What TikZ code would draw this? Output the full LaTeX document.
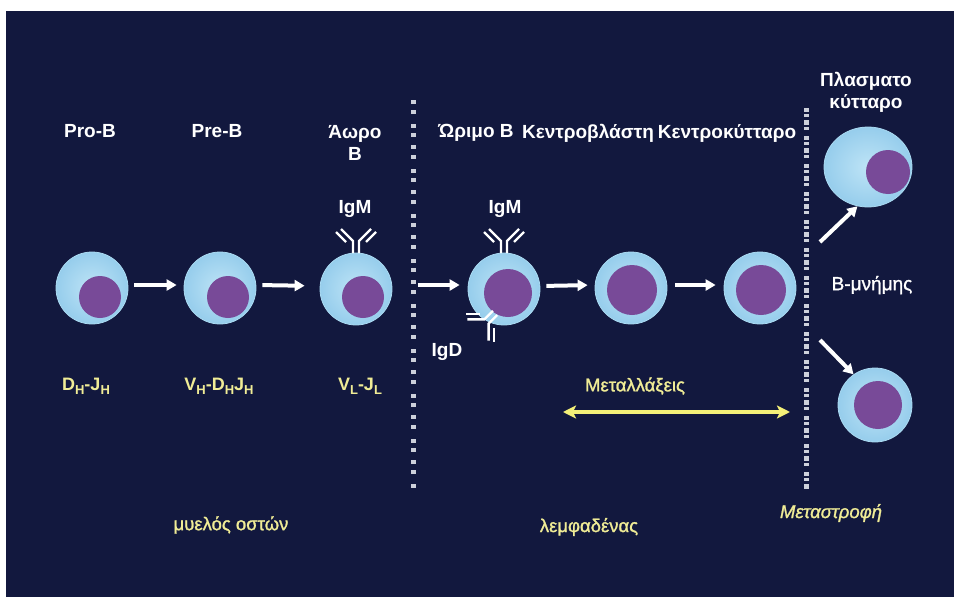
\documentclass[tikz,border=0pt]{standalone}
\usepackage{fontspec}
\setmainfont{Liberation Sans}
\newfontfamily\semibold[FakeBold=1.3]{Liberation Sans}
\usetikzlibrary{arrows.meta,shapes.geometric}

\definecolor{bgnavy}{RGB}{18,24,62}
\definecolor{cellblue}{RGB}{150,205,236}
\definecolor{cellinner}{RGB}{190,228,246}
\definecolor{celledge}{RGB}{170,218,242}
\definecolor{nucleus}{RGB}{120,74,152}
\definecolor{labelyellow}{RGB}{240,236,150}
\definecolor{arrowyellow}{RGB}{244,240,120}
\definecolor{dividergray}{RGB}{205,208,218}

% subscript used in the gene segment labels
\newcommand\gsub[1]{\raisebox{-0.45ex}{\fontsize{13}{13}\selectfont #1}}

\tikzset{
  cellbody/.style={circle, inner sep=0pt, minimum size=#1, draw=celledge,
    line width=0.8pt, inner color=cellinner, outer color=cellblue},
  nucleusbody/.style={circle, inner sep=0pt, minimum size=#1, fill=nucleus},
  flow/.style={draw=white, line width=4pt,
    -{Triangle[length=10pt,width=11pt]}},
  mutation/.style={draw=arrowyellow, line width=3.5pt,
    {Stealth[length=13pt,width=13pt,inset=3pt]}-{Stealth[length=13pt,width=13pt,inset=3pt]}},
  abline/.style={draw=white, line width=2.4pt},
  divider/.style={draw=dividergray, line width=5pt},
  stage/.style={text=white, font=\bfseries\fontsize{19}{22}\selectfont, align=center, inner sep=0pt},
  stagelight/.style={text=white, font=\semibold\fontsize{19}{22}\selectfont, align=center, inner sep=0pt},
  gene/.style={text=labelyellow, font=\bfseries\fontsize{18}{20}\selectfont, inner sep=0pt},
  region/.style={text=labelyellow, font=\semibold\fontsize{18.5}{20}\selectfont, inner sep=0pt},
  antibody/.pic={
    \draw[abline] (-3,0) -- (-3,-12) -- (-15,-24);
    \draw[abline] (3,0) -- (3,-12) -- (15,-24);
    \draw[abline] (-10,-11) -- (-20,-21);
    \draw[abline] (10,-11) -- (20,-21);
  },
}

\begin{document}
\begin{tikzpicture}[x=1pt,y=-1pt]
\useasboundingbox (0,0) rectangle (954,597);
\fill[white] (0,0) rectangle (954,597);
\fill[bgnavy] (6,11) rectangle (954,597);

% compartment dividers
\draw[divider, dash pattern=on 4pt off 6pt on 4pt off 10pt on 4pt off 5pt on 4pt off 8pt] (413,100) -- (413,490);
\draw[divider, dash pattern=on 4pt off 2pt on 3pt off 3pt on 5pt off 2pt on 3pt off 6pt] (806,108) -- (806,490);

% cells
\node[cellbody=72pt] (prob) at (92,288) {};
\node[nucleusbody=42pt] (probn) at (100,297) {};
\node[cellbody=72pt] (preb) at (220,288) {};
\node[nucleusbody=42pt] (prebn) at (228,297) {};
\node[cellbody=72pt] (immature) at (356,289) {};
\node[nucleusbody=42pt] (immaturen) at (363,297) {};
\node[cellbody=72pt] (mature) at (504,289) {};
\node[nucleusbody=48pt] (maturen) at (508,293) {};
\node[cellbody=72pt] (blast) at (631,288) {};
\node[nucleusbody=50pt] (blastn) at (632,290) {};
\node[cellbody=72pt] (cyte) at (760,288) {};
\node[nucleusbody=50pt] (cyten) at (761,290) {};
\node[ellipse, inner sep=0pt, minimum width=88pt, minimum height=80pt, draw=celledge,
  line width=0.8pt, inner color=cellinner, outer color=cellblue] (plasma) at (868,167) {};
\node[nucleusbody=44pt] (plasman) at (888,172) {};
\node[cellbody=74pt] (memory) at (875,405) {};
\node[nucleusbody=48pt] (memoryn) at (878,405) {};

% surface immunoglobulins
\pic at (356,253) {antibody};
\pic at (504,253) {antibody};
\pic[rotate=135] at (495,313) {antibody};

% differentiation steps
\draw[flow, shorten <=6pt, shorten >=7pt] ([yshift=3pt]prob.east) -- ([yshift=3pt]preb.west);
\draw[flow, shorten <=6pt, shorten >=15pt] ([yshift=3pt]preb.east) -- ([yshift=3pt]immature.west);
\draw[flow, shorten <=26pt, shorten >=8pt] ([yshift=4pt]immature.east) -- ([yshift=4pt]mature.west);
\draw[flow, shorten <=6pt, shorten >=7pt] ([yshift=3pt]mature.east) -- ([yshift=3pt]blast.west);
\draw[flow, shorten <=8pt, shorten >=8pt] ([yshift=3pt]blast.east) -- ([yshift=3pt]cyte.west);
\coordinate (toplasma) at (820,242);
\coordinate (tomemory) at (820,340);
\draw[flow] (toplasma) -- (plasma.-105);
\draw[flow] (tomemory) -- (memory.125);

% somatic hypermutation range
\coordinate (mutstart) at (563,412);
\coordinate (mutend) at (790,412);
\draw[mutation] (mutstart) -- (mutend);

% stage names
\node[stage] (tprob) at (90,131) {Pro-B};
\node[stage] (tpreb) at (217,131) {Pre-B};
\node[stage] (timm) at (355,143) {Άωρο\\Β};
\node[stage] (tmat) at (476,133) {Ώριμο Β};
\node[stage] (tblast) at (588,133) {Κεντροβλάστη};
\node[stage] (tcyte) at (727,133) {Κεντροκύτταρο};
\node[stage] (tplasma) at (866,92) {Πλασματο\\κύτταρο};
\node[stagelight] (tmemory) at (872,285) {Β-μνήμης};
\node[stage] (tigm1) at (355,209) {IgM};
\node[stage] (tigm2) at (505,209) {IgM};
\node[stage] (tigd) at (447,352) {IgD};

% gene rearrangements
\node[gene] (g1) at (86,386) {D\gsub{H}-J\gsub{H}};
\node[gene] (g2) at (219,386) {V\gsub{H}-D\gsub{H}J\gsub{H}};
\node[gene] (g3) at (360,386) {V\gsub{L}-J\gsub{L}};
\node[region] (tmut) at (635,386) {Μεταλλάξεις};

% tissues
\node[region] (tmarrow) at (231,525) {μυελός οστών};
\node[region] (tnode) at (589,527) {λεμφαδένας};
\node[region, font=\semibold\itshape\fontsize{18.5}{20}\selectfont] (tswitch) at (831,513) {Μεταστροφή};
\end{tikzpicture}
\end{document}
